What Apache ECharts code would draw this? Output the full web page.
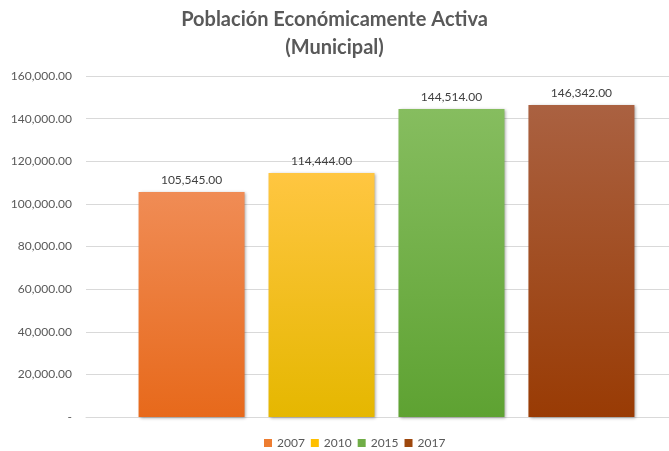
<!DOCTYPE html>
<html>
<head>
<meta charset="utf-8">
<script src="https://cdn.jsdelivr.net/npm/echarts@6/dist/echarts.min.js"></script>
<style>html,body{margin:0;padding:0;background:#fff}#c{width:669px;height:451px}</style>
</head>
<body>
<div id="c"></div>
<script>
const titleText = 'Población Económicamente Activa\n(Municipal)';
const years = ['2007', '2010', '2015', '2017'];
const values = [105545, 114444, 144514, 146342];
const topColors = ['#F08C55', '#FFC641', '#86BD5F', '#AA6141'];
const bottomColors = ['#E7691B', '#E5B700', '#5EA232', '#993B04'];
const legendColors = ['#ED7D31', '#FFC000', '#70AD47', '#9E480E'];
const yMin = 0, yMax = 160000, yStep = 20000;

const font = 'Lato, "Open Sans", sans-serif';
function fmt(v) {
  return v.toLocaleString('en-US', {minimumFractionDigits: 2, maximumFractionDigits: 2});
}

const series = years.map((y, i) => ({
  name: y,
  type: 'bar',
  data: [{value: values[i]}],
  barWidth: 106,
  barGap: '22.6%',
  itemStyle: {
    color: new echarts.graphic.LinearGradient(0, 0, 0, 1, [
      {offset: 0, color: topColors[i]},
      {offset: 1, color: bottomColors[i]}
    ]),
    shadowColor: 'rgba(0,0,0,0.35)',
    shadowBlur: 3,
    shadowOffsetX: 1.5,
    shadowOffsetY: 1
  },
  label: {
    show: true,
    position: 'top',
    distance: 6,
    formatter: p => fmt(p.value),
    color: '#404040',
    fontSize: 12,
    fontFamily: font
  }
}));

const chart = echarts.init(document.getElementById('c'));
chart.setOption({
  animation: false,
  backgroundColor: '#ffffff',
  title: {
    text: titleText,
    left: 'center',
    top: 1,
    textStyle: {
      fontSize: 20,
      fontWeight: 'bold',
      color: '#595959',
      fontFamily: font,
      lineHeight: 28
    }
  },
  legend: {
    top: 432,
    left: 259,
    icon: 'rect',
    itemWidth: 8,
    itemHeight: 8,
    itemGap: 6,
    data: years.map((y, i) => ({name: y, itemStyle: {color: legendColors[i]}})),
    textStyle: {color: '#595959', fontSize: 12, fontFamily: font}
  },
  grid: {left: 86, width: 601, top: 76, bottom: 34, outerBoundsMode: 'none', containLabel: false},
  xAxis: {
    type: 'category',
    data: ['PEA'],
    axisLine: {lineStyle: {color: '#D9D9D9'}},
    axisTick: {show: false},
    axisLabel: {show: false}
  },
  yAxis: {
    type: 'value',
    min: yMin,
    max: yMax,
    interval: yStep,
    axisLine: {show: false},
    axisTick: {show: false},
    splitLine: {lineStyle: {color: '#D9D9D9'}},
    axisLabel: {
      color: '#595959',
      fontSize: 12,
      fontFamily: font,
      margin: 14,
      formatter: v => v === 0 ? '-' : fmt(v)
    }
  },
  series: series
});
</script>
</body>
</html>
